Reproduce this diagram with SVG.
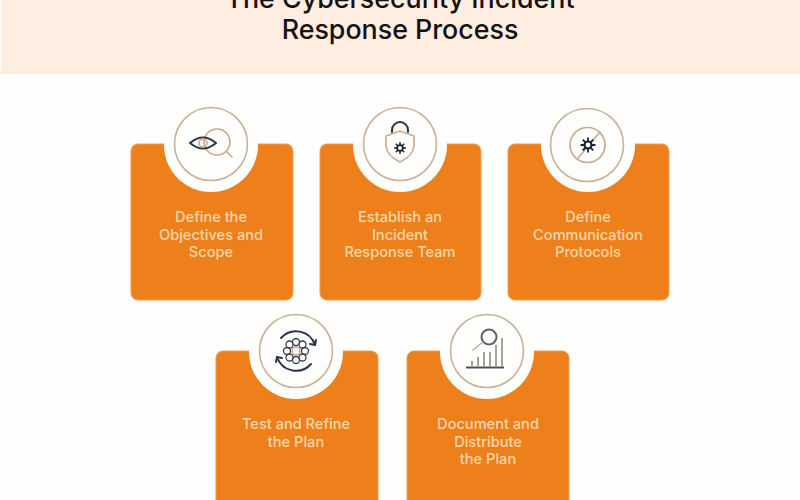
<svg xmlns="http://www.w3.org/2000/svg" width="800" height="500" viewBox="0 0 800 500">
<style>
.card{fill:#ee801c;stroke:#f29a4c;stroke-width:1}
.notch{fill:#fefefc}
.ring{fill:#fefefc;stroke:#c9b198;stroke-width:1.6}
.label{font-family:"Inter","Liberation Sans",sans-serif;font-size:14.6px;font-weight:500;fill:#fad6a8;text-anchor:middle}
.title{font-family:"Inter","Liberation Sans",sans-serif;font-size:26.8px;font-weight:500;fill:#15120f;text-anchor:middle}
.dark{fill:none;stroke:#2c3546;stroke-width:2;stroke-linecap:round;stroke-linejoin:round}
.tan{fill:none;stroke:#c9a98c;stroke-width:1.6;stroke-linecap:round}
</style>
<defs>
<g id="spark"><circle r="3.6" fill="none" stroke="#1d2230" stroke-width="2"/><path d="M0-7.500V7.500M-7.500 0H7.500M-5.300-5.300L5.300 5.300M-5.300 5.300L5.300-5.300" stroke="#1d2230" stroke-width="1.800"/><circle r="2.400" fill="#fefefc"/></g>
</defs>
<rect width="800" height="500" fill="#fefefe"/>
<g id="header">
<rect x="1" y="-2" width="799" height="76" fill="#fdeee1"/>
<text class="title" x="400" y="8">The Cybersecurity Incident</text>
<text class="title" x="400" y="39">Response Process</text>
</g>
<g id="node-objectives">
<rect class="card" x="131" y="144" width="162" height="156" rx="7"/>
<circle class="notch" cx="211" cy="145" r="47"/>
<circle class="ring" cx="211" cy="144" r="36.500"/>
<circle class="tan" cx="217" cy="142" r="13"/>
<path class="tan" d="M226 151L232 157"/>
<path class="dark" d="M190 143Q203 132 216 143Q203 154 190 143Z"/>
<circle class="tan" cx="203" cy="143" r="4"/>
<text class="label" x="211" y="222">Define the</text>
<text class="label" x="211" y="240">Objectives and</text>
<text class="label" x="211" y="257">Scope</text>
</g>
<g id="node-team">
<rect class="card" x="320" y="144" width="161" height="156" rx="7"/>
<circle class="notch" cx="400" cy="145" r="47"/>
<circle class="ring" cx="400" cy="144" r="36.500"/>
<path class="dark" d="M392 132V130A8 8 0 0 1 408 130V132"/>
<path class="tan" d="M400 131L386 136V146Q387 156 400 162Q413 156 414 146V136Z"/>
<use href="#spark" transform="translate(400 148) scale(.8)"/>
<text class="label" x="400" y="222">Establish an</text>
<text class="label" x="400" y="240">Incident</text>
<text class="label" x="400" y="257">Response Team</text>
</g>
<g id="node-protocols">
<rect class="card" x="508" y="144" width="161" height="156" rx="7"/>
<circle class="notch" cx="588" cy="145" r="47"/>
<circle class="ring" cx="587" cy="145" r="36.500"/>
<circle class="tan" cx="587.500" cy="145" r="17.500"/>
<path class="tan" d="M578 158L600 132"/>
<use href="#spark" x="588" y="145"/>
<text class="label" x="588" y="222">Define</text>
<text class="label" x="588" y="240">Communication</text>
<text class="label" x="588" y="257">Protocols</text>
</g>
<g id="node-test">
<rect class="card" x="216" y="351" width="162" height="160" rx="7"/>
<circle class="notch" cx="296" cy="352" r="47"/>
<circle class="ring" cx="296" cy="351" r="36.500"/>
<path class="dark" d="M281 338A20 20 0 0 1 315 345M311 364A20 20 0 0 1 277 357"/>
<path class="dark" d="M315 345L316 340M315 345L310 344M277 357L276 362M277 357L282 358"/>
<circle class="tan" cx="296" cy="351" r="4"/>
<g fill="none" stroke="#3a3f4c" stroke-width="1.300">
<circle cx="296" cy="342" r="3.500"/><circle cx="296" cy="360" r="3.500"/><circle cx="287" cy="351" r="3.500"/><circle cx="305" cy="351" r="3.500"/><circle cx="289.500" cy="344.500" r="3.500"/><circle cx="302.500" cy="344.500" r="3.500"/><circle cx="289.500" cy="357.500" r="3.500"/><circle cx="302.500" cy="357.500" r="3.500"/>
</g>
<text class="label" x="296" y="429">Test and Refine</text>
<text class="label" x="296" y="447">the Plan</text>
</g>
<g id="node-document">
<rect class="card" x="407" y="351" width="162" height="160" rx="7"/>
<circle class="notch" cx="487" cy="352" r="47"/>
<circle class="ring" cx="487" cy="351" r="36.500"/>
<circle cx="489" cy="337" r="7.500" fill="none" stroke="#5a6069" stroke-width="2"/>
<path class="tan" d="M483 342L473 350"/>
<path d="M466 367.500H504" stroke="#4c5059" stroke-width="1.800" fill="none"/>
<path d="M472 366V361M478 366V357M484 366V352M490 366V352M496 366V345M502 366V338" stroke="#8a8478" stroke-width="1.500" fill="none"/>
<text class="label" x="488" y="429">Document and</text>
<text class="label" x="488" y="447">Distribute</text>
<text class="label" x="488" y="464">the Plan</text>
</g>
<g id="connectors"></g>
</svg>
